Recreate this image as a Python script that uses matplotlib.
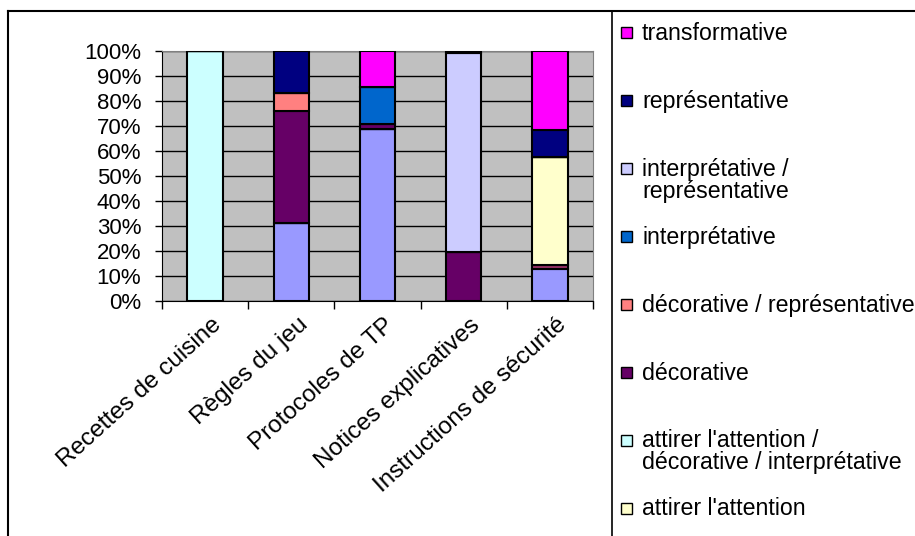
import matplotlib.pyplot as plt
import matplotlib.transforms as mtransforms
from matplotlib.patches import Rectangle
from matplotlib.lines import Line2D
import numpy as np

plt.rcParams['font.family'] = ['Liberation Sans', 'DejaVu Sans']

# data (percent of each category)
categories = ["Recettes de cuisine", "Règles du jeu", "Protocoles de TP",
              "Notices explicatives", "Instructions de sécurité"]

# series from bottom to top of the stack
series_names = ["", "", "attirer l'attention",
                "attirer l'attention /\ndécorative / interprétative",
                "décorative", "décorative / représentative", "interprétative",
                "interprétative /\nreprésentative", "représentative", "transformative"]
series_values = [
    [0, 31.3, 68.6, 0, 12.8],
    [0, 0, 0, 0, 1.6],
    [0, 0, 0, 0, 43.1],
    [100, 0, 0, 0, 0],
    [0, 44.7, 2.1, 19.7, 0],
    [0, 7.2, 0, 0, 0],
    [0, 0, 14.8, 0, 0],
    [0, 0, 0, 79.5, 0],
    [0, 16.8, 0, 0.8, 10.7],
    [0, 0, 14.5, 0, 31.8],
]
series_colors = ["#9999FF", "#993366", "#FFFFCC", "#CCFFFF", "#660066",
                 "#FF8080", "#0066CC", "#CCCCFF", "#000080", "#FF00FF"]

W, H = 915, 536
fig = plt.figure(figsize=(W / 100, H / 100), dpi=100)
ax = fig.add_axes([162 / W, 1 - 301 / H, (593 - 162) / W, (301 - 50.7) / H])
ax.set_facecolor("#C0C0C0")

x = np.arange(len(categories))
bottom = np.zeros(len(categories))
for vals, col in zip(series_values, series_colors):
    vals = np.array(vals, dtype=float)
    ax.bar(x, vals, width=0.41, bottom=bottom, color=col,
           edgecolor="black", linewidth=1.5, zorder=3)
    bottom += vals

ax.set_xlim(-0.5, len(categories) - 0.5)
ax.set_ylim(0, 100)
ax.set_yticks(np.arange(0, 101, 10))
ax.set_yticklabels([f"{v}%" for v in range(0, 101, 10)], fontsize=16)
ax.yaxis.grid(True, color="black", linewidth=1, zorder=1)
ax.set_axisbelow(True)
ax.tick_params(axis="y", length=5, width=1, pad=10, direction="out")

# ticks between categories, labels at centers
ax.set_xticks(np.arange(-0.5, len(categories), 1), minor=True)
ax.set_xticks(x)
ax.tick_params(axis="x", which="minor", length=6, width=1, direction="out")
ax.tick_params(axis="x", which="major", length=0)
ax.set_xticklabels(categories, rotation=42, ha="right", va="top",
                   rotation_mode="anchor", fontsize=17.5)
offset = mtransforms.ScaledTranslation(6 / 100, -8 / 100, fig.dpi_scale_trans)
for lab in ax.get_xticklabels():
    lab.set_transform(lab.get_transform() + offset)

for side in ["top", "right"]:
    ax.spines[side].set_color("#808080")
for side in ["left", "bottom"]:
    ax.spines[side].set_color("black")

# outer frame and legend box
fig.add_artist(Line2D([8 / W, 8 / W], [0, 1 - 11 / H], color="black", lw=1.5))
fig.add_artist(Line2D([8 / W, 1], [1 - 11 / H, 1 - 11 / H], color="black", lw=1.5))
fig.add_artist(Line2D([612 / W, 612 / W], [0, 1 - 11 / H], color="black", lw=1.2))

# legend, top series first
leg_items = [(n, c) for n, c in zip(series_names, series_colors) if n][::-1]
for i, (name, col) in enumerate(leg_items):
    yc = 33 + i * 67.9
    fig.add_artist(Rectangle((621 / W, 1 - (yc + 5.5) / H), 11 / W, 11 / H,
                             facecolor=col, edgecolor="black", lw=1))
    fig.text(642 / W, 1 - (yc - 11) / H, name, fontsize=16.7, va="top",
             ha="left", linespacing=0.95)

fig.savefig("out.png", dpi=100)
